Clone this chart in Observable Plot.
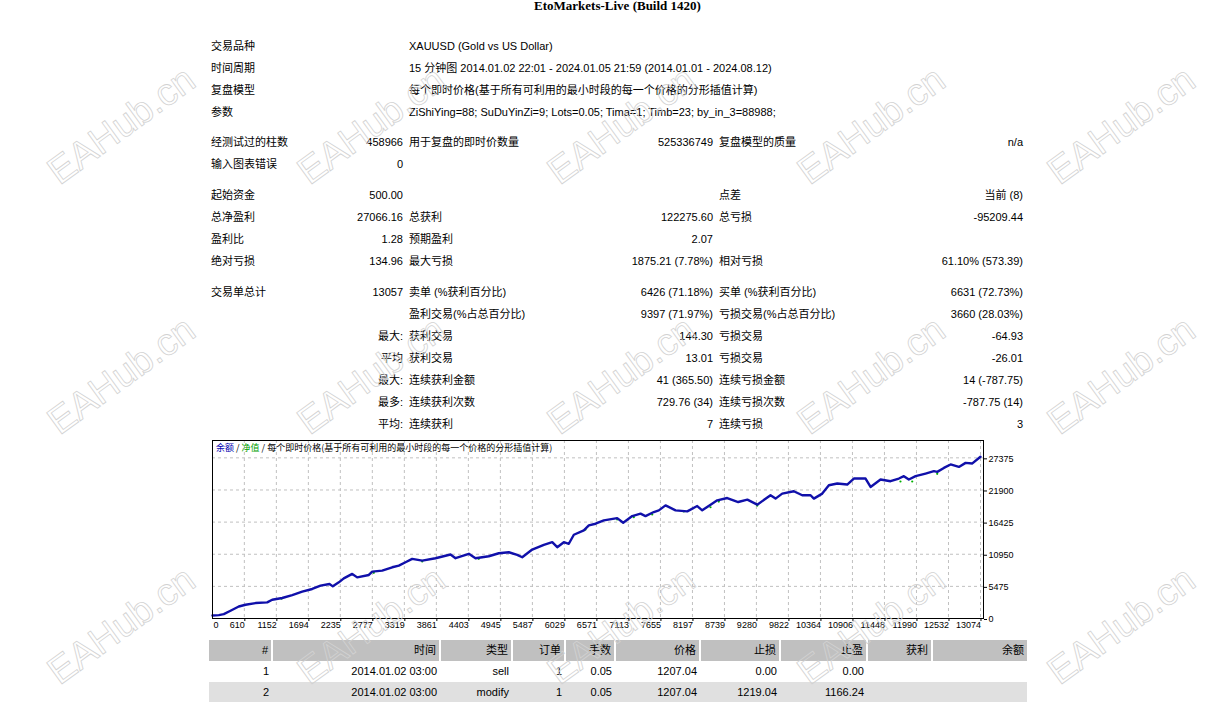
<!DOCTYPE html>
<html>
<head>
<meta charset="utf-8">
<script src="https://cdn.jsdelivr.net/npm/d3@7"></script>
<script src="https://cdn.jsdelivr.net/npm/@observablehq/plot@0.6"></script>
<style>
  html, body { margin: 0; padding: 0; background: #fff; }
  body { width: 1215px; height: 702px; position: relative; overflow: hidden;
         font-family: "Liberation Sans", "Noto Sans CJK SC", sans-serif; font-size: 11px; color: #000; }
  #title { position: absolute; left: 0; width: 1235px; top: -1px; text-align: center;
           font-family: "Liberation Serif", serif; font-weight: bold; font-size: 13px; line-height: 13px; }
  #stats { position: absolute; left: 208px; top: 35px; border-collapse: collapse; table-layout: fixed; width: 818px; }
  #stats td { padding: 0 3px; height: 22px; line-height: 22px; white-space: nowrap; overflow: visible; }
  #stats td.r { text-align: right; }
  #stats tr.sp td { height: 8px; line-height: 8px; }
  #stats tr.sp9 td { height: 9px; line-height: 9px; }
  #chart { position: absolute; left: 209px; top: 435px; }
  #chartHead { position: absolute; left: 216px; top: 441px; font-size: 9px; line-height: 14px;
               font-family: "Noto Sans CJK SC", sans-serif; white-space: nowrap; }
  #orders { position: absolute; left: 209px; top: 640px; border-collapse: collapse; table-layout: fixed; width: 818px; }
  #orders td { padding: 0 3px; text-align: right; white-space: nowrap; height: 21px; line-height: 21px; }
  #orders tr.h td { background: #c0c0c0; border-left: 2px solid #fff; }
  #orders tr.h td:first-child { border-left: none; }
  #orders tr.g td { background: #e0e0e0; }
  #wm { position: absolute; left: 0; top: 0; pointer-events: none; }
</style>
</head>
<body>
<div id="title">EtoMarkets-Live (Build 1420)</div>
<table id="stats"></table>
<div id="chart"></div>
<div id="chartHead"><span style="color:#0000b0">余额</span> / <span style="color:#00a000">净值</span> / 每个即时价格(基于所有可利用的最小时段的每一个价格的分形插值计算)</div>
<table id="orders"></table>
<svg id="wm" width="1215" height="702"></svg>
<script>
// ---------- report table data ----------
const infoLabels = ["交易品种", "时间周期", "复盘模型", "参数"];
const infoValues = [
  "XAUUSD (Gold vs US Dollar)",
  "15 分钟图 2014.01.02 22:01 - 2024.01.05 21:59 (2014.01.01 - 2024.08.12)",
  "每个即时价格(基于所有可利用的最小时段的每一个价格的分形插值计算)",
  "ZiShiYing=88; SuDuYinZi=9; Lots=0.05; Tima=1; Timb=23; by_in_3=88988;"
];
// six-column rows: label, value, label, value, label, value
const group2 = [
  ["经测试过的柱数", "458966", "用于复盘的即时价数量", "525336749", "复盘模型的质量", "n/a"],
  ["输入图表错误", "0", "", "", "", ""]
];
const group3 = [
  ["起始资金", "500.00", "", "", "点差", "当前 (8)"],
  ["总净盈利", "27066.16", "总获利", "122275.60", "总亏损", "-95209.44"],
  ["盈利比", "1.28", "预期盈利", "2.07", "", ""],
  ["绝对亏损", "134.96", "最大亏损", "1875.21 (7.78%)", "相对亏损", "61.10% (573.39)"]
];
const group4 = [
  ["交易单总计", "13057", "卖单 (%获利百分比)", "6426 (71.18%)", "买单 (%获利百分比)", "6631 (72.73%)"],
  ["", "", "盈利交易(%占总百分比)", "9397 (71.97%)", "亏损交易(%占总百分比)", "3660 (28.03%)"],
  ["", "最大:", "获利交易", "144.30", "亏损交易", "-64.93"],
  ["", "平均", "获利交易", "13.01", "亏损交易", "-26.01"],
  ["", "最大:", "连续获利金额", "41 (365.50)", "连续亏损金额", "14 (-787.75)"],
  ["", "最多:", "连续获利次数", "729.76 (34)", "连续亏损次数", "-787.75 (14)"],
  ["", "平均:", "连续获利", "7", "连续亏损", "3"]
];

// ---------- chart data ----------
const xTickLabels = ["0","610","1152","1694","2235","2777","3319","3861","4403","4945","5487","6029","6571",
  "7113","7655","8197","8739","9280","9822","10364","10906","11448","11990","12532","13074"];
const yTicks = [0, 5475, 10950, 16425, 21900, 27375];
const tradeNo = [71,178,262,376,516,630,799,997,1082,1251,1421,1590,1759,1900,2052,2108,2210,2294,2437,2521,
  2718,2775,2944,3114,3226,3339,3452,3622,3847,4101,4186,4411,4524,4749,4919,5088,5230,5315,5484,5681,
  5823,5908,6019,6104,6189,6358,6443,6556,6697,6923,7025,7178,7318,7402,7543,7628,7741,7911,8109,8278,
  8363,8504,8617,8786,8972,9127,9294,9519,9604,9717,9914,10056,10197,10253,10395,10507,10649,10818,10930,11128,
  11213,11382,11551,11692,11777,11861,11975,12144,12285,12342,12454,12568,12708,12822,12936,13074];
const balanceVals = [500,580,750,1320,2050,2340,2630,2740,3200,3490,4000,4570,5030,5600,5880,5475,6160,6840,7600,7010,
  7420,7990,8160,8730,9020,9580,10160,9870,10270,10900,10270,11020,10270,10610,11120,11290,10850,10440,11750,12560,
  13000,12150,13000,12730,14270,15000,15860,16150,16720,17110,16320,17450,17860,17450,18140,18430,19280,18430,18260,19160,
  18430,19400,20140,20530,19850,20260,19400,21000,20430,21280,21680,21000,21000,20430,21280,22700,23000,22830,23850,23850,
  22410,23680,23390,23850,24250,23680,24250,24700,25100,24980,25660,26250,25830,26520,26420,27560];
const equityTrade = [1239,2802,3622,4580,6386,6923,7204,7516,8051,8503,8643,9294,11719,11918,12341];
const equityVals  = [3370,7790,9710,10170,15160,16870,17260,17720,18230,18960,19930,19250,23340,23340,24650];

// ---------- orders table data ----------
const orderHeader = ["#", "时间", "类型", "订单", "手数", "价格", "止损", "止盈", "获利", "余额"];
const orderRows = [
  ["1", "2014.01.02 03:00", "sell", "1", "0.05", "1207.04", "0.00", "0.00", "", ""],
  ["2", "2014.01.02 03:00", "modify", "1", "0.05", "1207.04", "1219.04", "1166.24", "", ""]
];

// ---------- build stats table ----------
const stats = document.getElementById("stats");
const colW = [122, 76, 194, 116, 184, 126];
const cg = document.createElement("colgroup");
colW.forEach(w => { const c = document.createElement("col"); c.style.width = w + "px"; cg.appendChild(c); });
stats.appendChild(cg);
function addSpacer(cls) {
  const tr = stats.insertRow(); tr.className = cls;
  const td = tr.insertCell(); td.colSpan = 6;
}
infoLabels.forEach((l, i) => {
  const tr = stats.insertRow();
  tr.insertCell().textContent = l;
  tr.insertCell();
  const td = tr.insertCell(); td.colSpan = 4; td.textContent = infoValues[i];
});
function addGroup(rows) {
  rows.forEach(r => {
    const tr = stats.insertRow();
    r.forEach((v, j) => {
      const td = tr.insertCell();
      td.textContent = v;
      if (j % 2 === 1) td.className = "r";
    });
  });
}
addSpacer("sp"); addGroup(group2);
addSpacer("sp9"); addGroup(group3);
addSpacer("sp9"); addGroup(group4);

// ---------- build orders table ----------
const orders = document.getElementById("orders");
const oW = [63, 168, 72, 53, 50, 85, 80, 87, 65, 95];
const og = document.createElement("colgroup");
oW.forEach(w => { const c = document.createElement("col"); c.style.width = w + "px"; og.appendChild(c); });
orders.appendChild(og);
{
  const tr = orders.insertRow(); tr.className = "h";
  orderHeader.forEach(h => { tr.insertCell().textContent = h; });
}
orderRows.forEach((r, i) => {
  const tr = orders.insertRow(); if (i % 2 === 1) tr.className = "g";
  r.forEach(v => { tr.insertCell().textContent = v; });
});

// ---------- chart ----------
const balance = tradeNo.map((t, i) => ({trade: t, value: balanceVals[i]}));
const equity = equityTrade.map((t, i) => ({trade: t, value: equityVals[i]}));
const xFirst = tradeNo[0];
const xTickValues = xTickLabels.map((s, i) => i === 0 ? xFirst : +s);
const gridStyle = {stroke: "#c0c0c0", strokeOpacity: 1, strokeWidth: 1, strokeDasharray: "3,3"};

const chart = Plot.plot({
  width: 820, height: 200,
  marginLeft: 3, marginRight: 46, marginTop: 5, marginBottom: 17,
  style: {fontFamily: "'Liberation Sans', sans-serif", fontSize: "9px", background: "transparent", color: "#000", overflow: "visible"},
  x: {domain: [xFirst, 13125]},
  y: {domain: [0, 30330]},
  marks: [
    Plot.gridX(xTickValues.slice(1), gridStyle),
    Plot.gridY(yTicks.slice(1), gridStyle),
    Plot.dot(equity, {x: "trade", y: "value", r: 1.1, fill: "#00b000", stroke: "none"}),
    Plot.line(balance, {x: "trade", y: "value", stroke: "#1010aa", strokeWidth: 2.4, curve: "linear"}),
    Plot.frame({stroke: "#000", strokeWidth: 1}),
    Plot.axisX(xTickValues.slice(1), {anchor: "bottom", tickSize: 3, tickPadding: 0, textAnchor: "end", dx: 0.5,
      tickFormat: d => xTickLabels[xTickValues.indexOf(d)], label: null}),
    Plot.axisX([xFirst], {anchor: "bottom", tickSize: 0, tickPadding: 3, textAnchor: "start", dx: 1,
      tickFormat: () => xTickLabels[0], label: null}),
    Plot.axisY(yTicks, {anchor: "right", tickSize: 3, tickPadding: 2, textAnchor: "start", dy: 1,
      tickFormat: d => String(d), label: null})
  ]
});
document.getElementById("chart").appendChild(chart);

// ---------- watermark overlay ----------
const wmText = "EAHub.cn";
const wmCols = 5, wmRows = 3, wmStep = 250, wmX0 = 121, wmY0 = 125;
const wm = d3.select("#wm");
for (let r = 0; r < wmRows; r++) {
  for (let c = 0; c < wmCols; c++) {
    const cx = wmX0 + c * wmStep, cy = wmY0 + r * wmStep;
    wm.append("text")
      .attr("x", cx).attr("y", cy)
      .attr("text-anchor", "middle").attr("dominant-baseline", "central")
      .attr("transform", `rotate(-36 ${cx} ${cy})`)
      .attr("font-family", "Liberation Sans, sans-serif").attr("font-size", 38)
      .attr("fill", "none").attr("stroke", "#d2d2d2").attr("stroke-width", 0.8)
      .text(wmText);
  }
}
</script>
</body>
</html>
